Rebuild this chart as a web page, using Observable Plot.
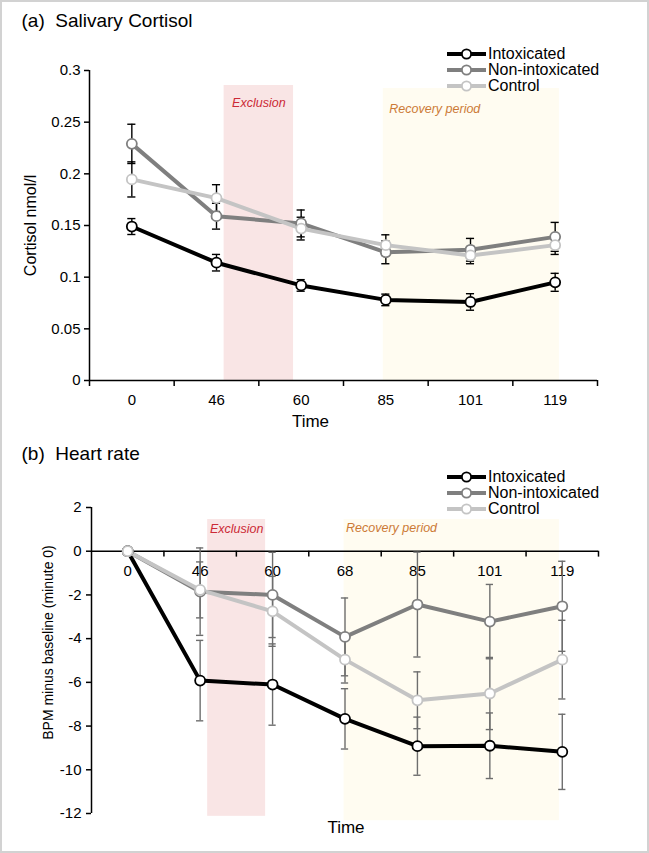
<!DOCTYPE html>
<html>
<head>
<meta charset="utf-8">
<script src="https://cdn.jsdelivr.net/npm/d3@7"></script>
<script src="https://cdn.jsdelivr.net/npm/@observablehq/plot@0.6"></script>
<style>
  html, body { margin: 0; padding: 0; background: #fff; }
  #wrap { position: relative; width: 649px; height: 853px; overflow: hidden; background: #fff;
          font-family: "Liberation Sans", Arial, Helvetica, sans-serif; }
  #frame { position: absolute; left: 0; top: 0; width: 649px; height: 853px; box-sizing: border-box;
           border: 2px solid #d2d2d2; pointer-events: none; }
  .panel { position: absolute; left: 0; }
  .panel svg { display: block; }
  .legend { position: absolute; left: 447px; font-size: 16px; color: #000; }
  .legend .row { display: flex; align-items: center; height: 16px; line-height: 16px; white-space: nowrap; }
  .legend svg { display: block; margin-right: 1px; }
</style>
</head>
<body>
<div id="wrap">
  <div id="panelA" class="panel" style="top:0px"></div>
  <div id="panelB" class="panel" style="top:430px"></div>
  <div id="legendA" class="legend" style="top:46px"></div>
  <div id="legendB" class="legend" style="top:469px"></div>
  <div id="frame"></div>
</div>
<script>
// ---------- data ----------
const seriesNames = ["Intoxicated", "Non-intoxicated", "Control"];
const seriesColors = ["#000000", "#7f7f7f", "#c4c4c4"];

// (a) Salivary cortisol (nmol/l), mean and SE per time point
const timesA = ["0", "46", "60", "85", "101", "119"];
const cortIntox   = [0.149, 0.114, 0.092, 0.078, 0.076, 0.095];
const cortIntoxSE = [0.0077, 0.008, 0.0056, 0.0056, 0.008, 0.0087];
const cortNon     = [0.229, 0.159, 0.152, 0.124, 0.1265, 0.139];
const cortNonSE   = [0.019, 0.0125, 0.013, 0.011, 0.011, 0.014];
const cortCtrl    = [0.1946, 0.1765, 0.147, 0.131, 0.121, 0.131];
const cortCtrlSE  = [0.017, 0.013, 0.011, 0.01, 0.008, 0.009];
const yTicksA = [0, 0.05, 0.1, 0.15, 0.2, 0.25, 0.3];
// shaded periods in panel (a), in time-slot units
const exclusionA = {label: "Exclusion", x1: 1.09, x2: 1.91, y1: 0, y2: 0.2855};
const recoveryA  = {label: "Recovery period", x1: 2.97, x2: 5.05, y1: 0, y2: 0.2826};

// (b) Heart rate, BPM minus baseline (minute 0), mean and SE
const timesB = ["0", "46", "60", "68", "85", "101", "119"];
const hrIntox   = [0, -5.92, -6.1, -7.67, -8.92, -8.9, -9.18];
const hrIntoxSE = [null, 1.84, 1.86, 1.38, 1.33, 1.5, 1.72];
const hrNon     = [0, -1.85, -2.0, -3.92, -2.44, -3.22, -2.52];
const hrNonSE   = [null, 2.0, 1.95, 1.78, 2.4, 1.7, 2.06];
const hrCtrl    = [0, -1.77, -2.75, -4.96, -6.82, -6.51, -4.96];
const hrCtrlSE  = [null, 1.28, 1.6, 1.07, 1.3, 1.65, 1.8];
const yTicksB = [-12, -10, -8, -6, -4, -2, 0, 2];
const exclusionB = {label: "Exclusion", x1: 1.104, x2: 1.904, y1: -12.13, y2: 1.45};
const recoveryB  = {label: "Recovery period", x1: 2.987, x2: 5.96, y1: -12.33, y2: 1.45};

// ---------- helpers ----------
const FONT = "'Liberation Sans', Arial, Helvetica, sans-serif";
function makeRows(valsList, seList) {
  return seriesNames.flatMap((s, k) =>
    valsList[k].map((v, i) => ({series: s, i, v, se: seList[k][i]})));
}
const colorScale = {domain: seriesNames, range: seriesColors};

// ---------- panel (a) ----------
const rowsA = makeRows([cortIntox, cortNon, cortCtrl], [cortIntoxSE, cortNonSE, cortCtrlSE]);
const errA = rowsA.filter(d => d.se != null);
const boundsA = d3.range(-0.5, timesA.length, 1);
const capA = 0.048;

const plotA = Plot.plot({
  width: 649, height: 430,
  marginLeft: 89, marginRight: 52, marginTop: 70, marginBottom: 50,
  x: {domain: [-0.5, timesA.length - 0.5], axis: null},
  y: {domain: [0, 0.3], axis: null},
  color: colorScale,
  style: {fontFamily: FONT, background: "transparent", color: "#000", overflow: "visible"},
  marks: [
    Plot.rect([exclusionA], {x1: "x1", x2: "x2", y1: "y1", y2: "y2", fill: "#f9e5e5"}),
    Plot.rect([recoveryA], {x1: "x1", x2: "x2", y1: "y1", y2: "y2", fill: "#fffcf1"}),
    Plot.text([exclusionA], {x: d => (d.x1 + d.x2) / 2, y: "y2", dy: 18, text: "label",
      fill: "#cc2a36", fontStyle: "italic", fontSize: 12.5}),
    Plot.text([recoveryA], {x: "x1", y: "y2", dx: 6, dy: 21, text: "label", textAnchor: "start",
      fill: "#cc7a36", fontStyle: "italic", fontSize: 12.5}),
    Plot.axisY({ticks: yTicksA, tickSize: 5, tickPadding: 4, fontSize: 15, strokeWidth: 1.5,
      tickFormat: d => String(d), label: null}),
    Plot.axisX({ticks: boundsA, tickSize: 6, strokeWidth: 1.5, tickFormat: () => "", label: null}),
    Plot.axisX({ticks: timesA.map((_, i) => i), tickSize: 0, tickPadding: 14, fontSize: 15,
      tickFormat: i => timesA[i], label: null}),
    Plot.ruleX([-0.5], {stroke: "#000", strokeWidth: 1.5}),
    Plot.ruleY([0], {stroke: "#000", strokeWidth: 1.5}),
    Plot.text(["Time"], {frameAnchor: "bottom", lineAnchor: "middle", textAnchor: "middle",
      dx: -33, dy: 41, fontSize: 17}),
    Plot.text(["Cortisol nmol/l"], {frameAnchor: "left", textAnchor: "middle", lineAnchor: "middle",
      dx: -59, rotate: -90, fontSize: 16}),
    Plot.text(["(a)  Salivary Cortisol"], {frameAnchor: "top-left", dx: -68, dy: -50,
      textAnchor: "start", lineAnchor: "middle", fontSize: 19}),
    Plot.ruleX(errA, {x: "i", y1: d => d.v - d.se, y2: d => d.v + d.se, stroke: "#000", strokeWidth: 1.4}),
    Plot.ruleY(errA, {x1: d => d.i - capA, x2: d => d.i + capA, y: d => d.v - d.se, stroke: "#000", strokeWidth: 1.4}),
    Plot.ruleY(errA, {x1: d => d.i - capA, x2: d => d.i + capA, y: d => d.v + d.se, stroke: "#000", strokeWidth: 1.4}),
    Plot.line(rowsA, {x: "i", y: "v", z: "series", stroke: "series", strokeWidth: 4, strokeLinejoin: "round"}),
    Plot.dot(rowsA, {x: "i", y: "v", stroke: "series", fill: "#fff", r: 5, strokeWidth: 1.8})
  ]
});
document.getElementById("panelA").appendChild(plotA);

// ---------- panel (b) ----------
const rowsB = makeRows([hrIntox, hrNon, hrCtrl], [hrIntoxSE, hrNonSE, hrCtrlSE]);
const errB = rowsB.filter(d => d.se != null);
const boundsB = d3.range(0.5, timesB.length, 1);
const capB = 0.05;

const plotB = Plot.plot({
  width: 649, height: 423,
  marginLeft: 91, marginRight: 51, marginTop: 77, marginBottom: 40,
  x: {domain: [-0.5, timesB.length - 0.5], axis: null},
  y: {domain: [-12, 2], axis: null},
  color: colorScale,
  style: {fontFamily: FONT, background: "transparent", color: "#000", overflow: "visible"},
  marks: [
    Plot.rect([exclusionB], {x1: "x1", x2: "x2", y1: "y1", y2: "y2", fill: "#f9e5e5"}),
    Plot.rect([recoveryB], {x1: "x1", x2: "x2", y1: "y1", y2: "y2", fill: "#fffcf1"}),
    Plot.text([exclusionB], {x: d => (d.x1 + d.x2) / 2, y: "y2", dy: 9, text: "label",
      fill: "#cc2a36", fontStyle: "italic", fontSize: 12.5}),
    Plot.text([recoveryB], {x: "x1", y: "y2", dx: 2, dy: 8, text: "label", textAnchor: "start",
      fill: "#cc7a36", fontStyle: "italic", fontSize: 12.5}),
    Plot.axisY({ticks: yTicksB, tickSize: 5, tickPadding: 5, fontSize: 15, strokeWidth: 1.5,
      tickFormat: d => String(d), label: null}),
    Plot.ruleX([-0.5], {stroke: "#000", strokeWidth: 1.5}),
    Plot.ruleY([0], {stroke: "#000", strokeWidth: 1.5}),
    Plot.ruleX(boundsB, {x: d => d, y1: 0, y2: -0.27, stroke: "#000", strokeWidth: 1.5}),
    Plot.text(timesB, {x: (d, i) => i, y: 0, dy: 20, text: d => d, fontSize: 15}),
    Plot.text(["Time"], {frameAnchor: "bottom", lineAnchor: "middle", textAnchor: "middle",
      dx: 1, dy: 14, fontSize: 17}),
    Plot.text(["BPM minus baseline (minute 0)"], {frameAnchor: "left", textAnchor: "middle", lineAnchor: "middle",
      dx: -42.5, dy: -18, rotate: -90, fontSize: 14}),
    Plot.text(["(b)  Heart rate"], {frameAnchor: "top-left", dx: -70, dy: -54,
      textAnchor: "start", lineAnchor: "middle", fontSize: 19}),
    Plot.ruleX(errB, {x: "i", y1: d => d.v - d.se, y2: d => d.v + d.se, stroke: "#6e6e6e", strokeWidth: 1.4}),
    Plot.ruleY(errB, {x1: d => d.i - capB, x2: d => d.i + capB, y: d => d.v - d.se, stroke: "#6e6e6e", strokeWidth: 1.4}),
    Plot.ruleY(errB, {x1: d => d.i - capB, x2: d => d.i + capB, y: d => d.v + d.se, stroke: "#6e6e6e", strokeWidth: 1.4}),
    Plot.line(rowsB, {x: "i", y: "v", z: "series", stroke: "series", strokeWidth: 4, strokeLinejoin: "round"}),
    Plot.dot(rowsB, {x: "i", y: "v", stroke: "series", fill: "#fff", r: 5, strokeWidth: 1.8})
  ]
});
document.getElementById("panelB").appendChild(plotB);

// titles need preserved double space
document.querySelectorAll("#wrap svg text").forEach(t => { t.setAttribute("xml:space", "preserve"); t.style.whiteSpace = "pre"; });

// ---------- legends ----------
function buildLegend(el) {
  seriesNames.forEach((name, k) => {
    const row = document.createElement("div");
    row.className = "row";
    const ns = "http://www.w3.org/2000/svg";
    const svg = document.createElementNS(ns, "svg");
    svg.setAttribute("width", 40); svg.setAttribute("height", 16);
    const line = document.createElementNS(ns, "line");
    line.setAttribute("x1", 0); line.setAttribute("x2", 39);
    line.setAttribute("y1", 8); line.setAttribute("y2", 8);
    line.setAttribute("stroke", seriesColors[k]); line.setAttribute("stroke-width", 4);
    const c = document.createElementNS(ns, "circle");
    c.setAttribute("cx", 19.5); c.setAttribute("cy", 8); c.setAttribute("r", 4.6);
    c.setAttribute("fill", "#fff"); c.setAttribute("stroke", seriesColors[k]); c.setAttribute("stroke-width", 1.8);
    svg.appendChild(line); svg.appendChild(c);
    const span = document.createElement("span");
    span.textContent = name;
    row.appendChild(svg); row.appendChild(span);
    el.appendChild(row);
  });
}
buildLegend(document.getElementById("legendA"));
buildLegend(document.getElementById("legendB"));
</script>
</body>
</html>
